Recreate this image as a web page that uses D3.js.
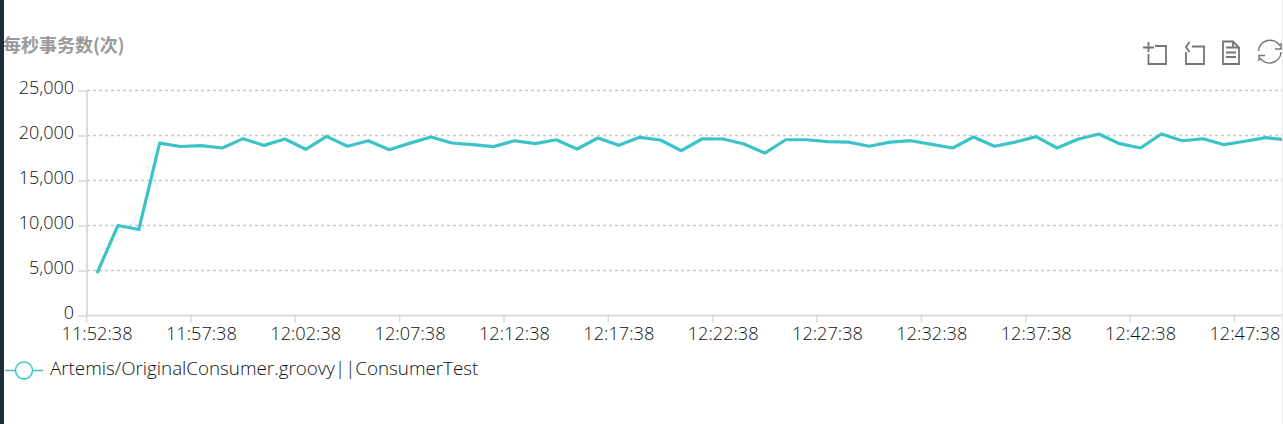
<!DOCTYPE html>
<html><head><meta charset="utf-8">
<style>html,body{margin:0;padding:0;background:#fff;overflow:hidden}svg{display:block}</style>
<script src="https://cdn.jsdelivr.net/npm/d3@7/dist/d3.min.js"></script></head>
<body><svg id="c" width="1283" height="424"></svg>
<script>
const categories = ["11:52:38","11:53:38","11:54:38","11:55:38","11:56:38","11:57:38","11:58:38","11:59:38","12:00:38","12:01:38","12:02:38","12:03:38","12:04:38","12:05:38","12:06:38","12:07:38","12:08:38","12:09:38","12:10:38","12:11:38","12:12:38","12:13:38","12:14:38","12:15:38","12:16:38","12:17:38","12:18:38","12:19:38","12:20:38","12:21:38","12:22:38","12:23:38","12:24:38","12:25:38","12:26:38","12:27:38","12:28:38","12:29:38","12:30:38","12:31:38","12:32:38","12:33:38","12:34:38","12:35:38","12:36:38","12:37:38","12:38:38","12:39:38","12:40:38","12:41:38","12:42:38","12:43:38","12:44:38","12:45:38","12:46:38","12:47:38","12:48:38","12:49:38"];
const tps = [4700,10000,9550,19150,18780,18870,18610,19650,18900,19610,18470,19900,18800,19420,18420,19150,19830,19170,18980,18760,19420,19090,19530,18500,19720,18910,19800,19500,18310,19640,19610,19050,18050,19530,19530,19310,19270,18800,19270,19420,19020,18610,19830,18800,19270,19870,18610,19580,20170,19090,18610,20170,19420,19640,18980,19360,19760,19500];
const yTicks = [0,5000,10000,15000,20000,25000];
const xLabels = ["11:52:38","11:57:38","12:02:38","12:07:38","12:12:38","12:17:38","12:22:38","12:27:38","12:32:38","12:37:38","12:42:38","12:47:38"];
const titleText = "每秒事务数(次)";
const legendText = "Artemis/OriginalConsumer.groovy||ConsumerTest";
const font = "'Open Sans','Noto Sans CJK SC',sans-serif";
const lineColor = "#3cc3c8";

const svg = d3.select("#c");
const y = d3.scaleLinear().domain([0,25000]).range([315.5,90.5]);
const x = d3.scaleBand().domain(categories).range([86.6,86.6+58*20.87]);
const bw = x.bandwidth();

// horizontal grid
svg.append("g").selectAll("line").data(yTicks.slice(1)).join("line")
  .attr("x1",87).attr("x2",1283).attr("y1",d=>y(d)).attr("y2",d=>y(d))
  .attr("stroke","#c8c8c8").attr("stroke-width",1.5).attr("stroke-dasharray","3 3");

// axes
const ya = svg.append("g").attr("transform","translate(87,0)")
  .call(d3.axisLeft(y).tickValues(yTicks).tickSize(9).tickPadding(4).tickFormat(d3.format(",")));
const xa = svg.append("g").attr("transform","translate(0,315.5)")
  .call(d3.axisBottom(x).tickValues(xLabels).tickSize(7).tickPadding(3));
xa.selectAll(".tick line").attr("x1",-bw/2).attr("x2",-bw/2);
xa.select(".domain").attr("d","M87,0H1283");
[ya,xa].forEach(a=>{
  a.selectAll(".domain").attr("stroke","#dcdcdc").attr("stroke-width",2);
  a.selectAll(".tick line").attr("stroke","#d8d8d8").attr("stroke-width",1.5);
  a.selectAll("text").attr("fill","#111").style("font-family",font).style("font-weight",300).style("font-size","18px");
});
ya.select(".domain").attr("d","M0,90.5V315.5");
ya.selectAll("text").attr("dy","0.18em");
xa.selectAll("text").attr("dy","0.8em").style("font-size","18.2px");

// series
svg.append("clipPath").attr("id","pc").append("rect").attr("x",87).attr("y",60).attr("width",1195).attr("height",270);
svg.append("path").datum(tps).attr("clip-path","url(#pc)")
  .attr("fill","none").attr("stroke",lineColor).attr("stroke-width",3.2).attr("stroke-linejoin","round")
  .attr("d",d3.line().x((d,i)=>x(categories[i])+bw/2).y(d=>y(d)));

// title
svg.append("text").attr("x",3).attr("y",52).attr("fill","#999").attr("font-weight","bold")
  .style("font-family","'Noto Sans CJK SC',sans-serif").style("font-size","18px").text(titleText);

// toolbox
const ic = svg.append("g").attr("fill","none").attr("stroke","#757575").attr("stroke-width",1.8);
ic.append("path").attr("d","M1155,46H1166V64H1148.5V54M1143,47.5H1154M1148.5,42V52");
ic.append("path").attr("d","M1192,46.5H1204V64H1186V52M1189.5,42L1186,47L1189.5,52");
ic.append("path").attr("d","M1223,41.5H1233L1239,47.5V64H1223ZM1233,41.5V47.5H1239M1226,47.5H1232M1226,52.5H1236M1226,57H1236");
ic.append("path").attr("d","M1258.5,51A11.5,11.5 0 0 1 1280,46M1281,52A11.5,11.5 0 0 1 1260,58").attr("stroke-width",1.5);
ic.append("path").attr("d","M1281,43V49H1275M1259,61V55.5H1265").attr("stroke-width",1.5);

// legend
const lg = svg.append("g");
lg.append("line").attr("x1",5).attr("x2",43).attr("y1",370.5).attr("y2",370.5).attr("stroke",lineColor).attr("stroke-width",1.5);
lg.append("circle").attr("cx",24).attr("cy",370.5).attr("r",8.5).attr("fill","#fff").attr("stroke",lineColor).attr("stroke-width",1.5);
lg.append("text").attr("x",50).attr("y",375).attr("fill","#111").style("font-family",font).style("font-weight",300).style("font-size","18.8px").text(legendText);

// left sidebar and right edge
svg.append("rect").attr("x",0).attr("y",0).attr("width",4).attr("height",424).attr("fill","#1e2d3a");
svg.append("rect").attr("x",1282).attr("y",0).attr("width",1).attr("height",424).attr("fill","#e8e8e8");
</script></body></html>
